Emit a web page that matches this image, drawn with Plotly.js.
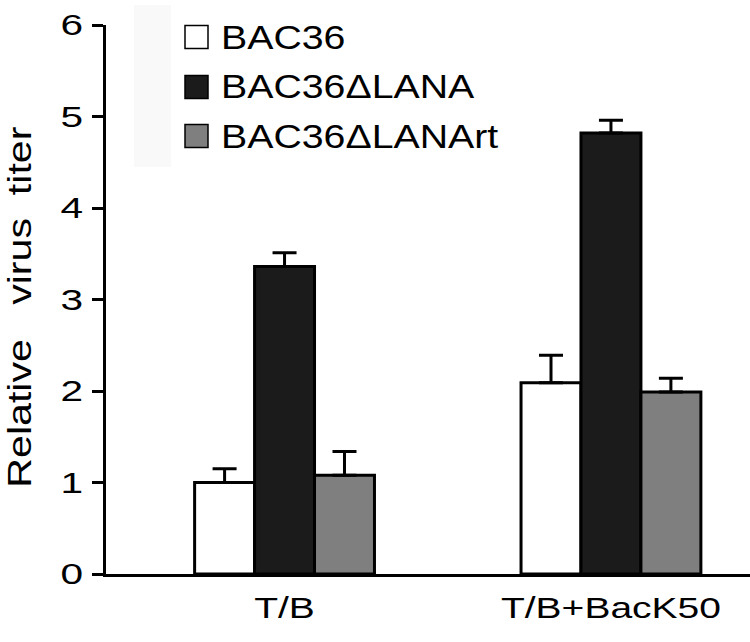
<!DOCTYPE html>
<html>
<head>
<meta charset="utf-8">
<script src="https://cdn.plot.ly/plotly-3.0.1.min.js"></script>
<style>html,body{margin:0;padding:0;background:#fff;}#chart{width:750px;height:642px;}</style>
</head>
<body>
<div id="chart"></div>
<script>
const categories = ["T/B", "T/B+BacK50"];
const seriesNames = ["BAC36", "BAC36\u0394LANA", "BAC36\u0394LANArt"];
const bac36 = [1.0, 2.09];
const bac36Err = [0.15, 0.30];
const bac36dLANA = [3.36, 4.82];
const bac36dLANAErr = [0.15, 0.14];
const bac36dLANArt = [1.08, 1.99];
const bac36dLANArtErr = [0.26, 0.15];
const yTicks = [0, 1, 2, 3, 4, 5, 6];
const yTitle = "Relative\u00a0\u00a0\u00a0virus\u00a0\u00a0titer";

const colors = ["#ffffff", "#1b1b1b", "#7f7f7f"];
const values = [bac36, bac36dLANA, bac36dLANArt];
const errors = [bac36Err, bac36dLANAErr, bac36dLANArtErr];
const FONT = "Liberation Sans, Arial, Helvetica, sans-serif";

const traces = seriesNames.map((n, i) => ({
  type: "bar",
  name: n,
  x: categories,
  y: values[i],
  marker: {color: colors[i], line: {color: "#000", width: 3}},
  error_y: {type: "data", symmetric: false, array: errors[i], arrayminus: errors[i].map(() => 0),
            color: "#000", thickness: 3, width: 12},
  showlegend: false,
  hoverinfo: "skip"
}));

// plot area in pixels
const L = 106, R = 750, T = 25, B = 574;
const px = p => (p - L) / (R - L);
const py = p => (B - p) / (B - T);

const shapes = [{
  type: "rect", xref: "paper", yref: "paper", layer: "below",
  x0: px(134), x1: px(171), y0: py(167), y1: py(5),
  fillcolor: "#f9f9f9", line: {width: 0}
}];
const annotations = [];
const legendY = [37, 87, 136];
seriesNames.forEach((n, i) => {
  shapes.push({
    type: "rect", xref: "paper", yref: "paper",
    x0: px(185), x1: px(208), y0: py(legendY[i] + 11.5), y1: py(legendY[i] - 11.5),
    fillcolor: colors[i], line: {color: "#000", width: 1.5}
  });
  annotations.push({
    xref: "paper", yref: "paper", x: px(219), y: py(legendY[i]),
    xanchor: "left", yanchor: "middle", align: "left", showarrow: false,
    text: n, font: {family: FONT, size: 33, color: "#000"}, name: "legtext"
  });
});
annotations.push({
  xref: "paper", yref: "paper", x: px(19), y: py(307),
  xanchor: "center", yanchor: "middle", showarrow: false, textangle: -90,
  text: yTitle, font: {family: FONT, size: 33, color: "#000"}, name: "ytitle"
});

const layout = {
  width: 750, height: 642,
  margin: {l: L, r: 750 - R, t: T, b: 642 - B},
  paper_bgcolor: "#fff", plot_bgcolor: "rgba(0,0,0,0)",
  barmode: "group", bargap: 0.449, bargroupgap: 0,
  font: {family: FONT, color: "#000"},
  xaxis: {
    type: "category", range: [-0.547, 1.426],
    showline: true, linecolor: "#000", linewidth: 3,
    ticks: "", showgrid: false, zeroline: false,
    tickfont: {family: FONT, size: 30, color: "#000"},
    ticklabelstandoff: 5
  },
  yaxis: {
    range: [0, 6], tickvals: yTicks, ticktext: yTicks.map(String),
    showline: true, linecolor: "#000", linewidth: 3,
    ticks: "outside", ticklen: 11, tickwidth: 3, tickcolor: "#000",
    showgrid: false, zeroline: false,
    tickfont: {family: FONT, size: 29, color: "#000"},
    ticklabelstandoff: 3
  },
  shapes: shapes,
  annotations: annotations,
  showlegend: false
};

function stretch(el, k) {
  const w = el.getComputedTextLength();
  if (w > 0) {
    el.setAttribute("textLength", (w * k).toFixed(2));
    el.setAttribute("lengthAdjust", "spacingAndGlyphs");
  }
}

Plotly.newPlot("chart", traces, layout, {displayModeBar: false, staticPlot: true}).then(gd => {
  gd.querySelectorAll(".ytick text").forEach(el => stretch(el, 1.4));
  gd.querySelectorAll(".xtick text").forEach(el => stretch(el, 1.3));
  const ann = gd.querySelectorAll(".annotation-text");
  ann.forEach((el, i) => {
    if (i < seriesNames.length) stretch(el, 1.19);
    else stretch(el, 361 / el.getComputedTextLength());
  });
});
</script>
</body>
</html>
